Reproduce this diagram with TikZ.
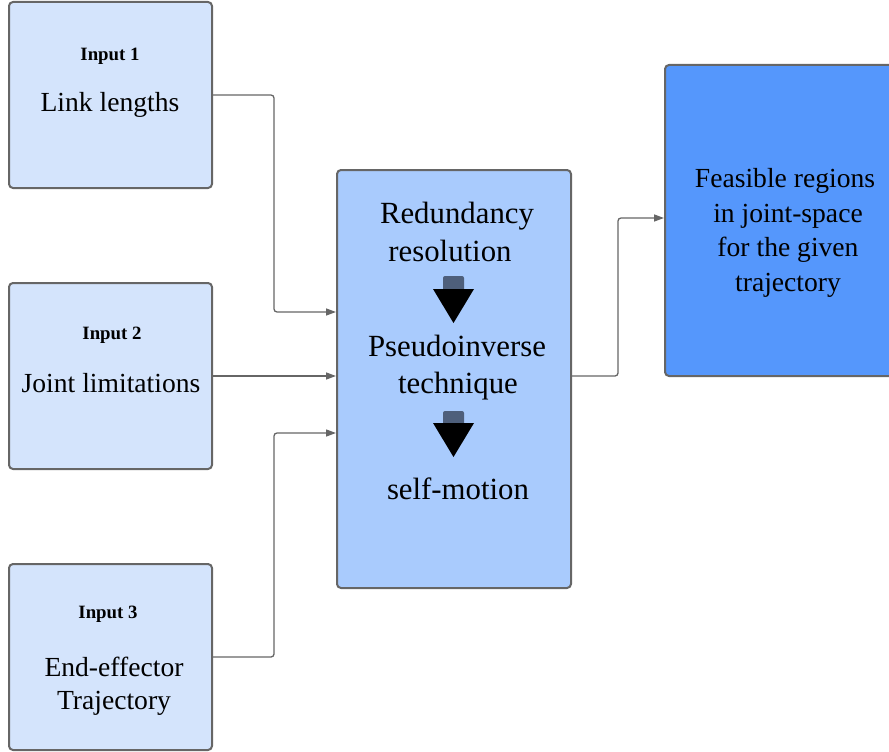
\documentclass[tikz,border=0pt]{standalone}
\usepackage{fontspec}
\setmainfont{Liberation Serif}
\usetikzlibrary{arrows.meta}
\definecolor{inputfill}{HTML}{D4E4FC}
\definecolor{midfill}{HTML}{A9CBFD}
\definecolor{outfill}{HTML}{5597FC}
\definecolor{edge}{HTML}{666666}
\definecolor{stepcap}{HTML}{4E5F7B}
\begin{document}
\begin{tikzpicture}[x=1pt,y=-1pt,
  box/.style={draw=edge,line width=2pt,rounded corners=4pt,inner sep=0pt},
  inbox/.style={box,fill=inputfill,minimum width=203pt,minimum height=186pt},
  head/.style={anchor=base,font=\fontsize{18.8}{22}\selectfont\bfseries,inner sep=0pt},
  body/.style={anchor=base,font=\fontsize{27.6}{34}\selectfont,inner sep=0pt},
  bigbody/.style={anchor=base,font=\fontsize{30.8}{38}\selectfont,inner sep=0pt},
  conn/.style={draw=edge,line width=1.3pt,rounded corners=3pt,
    -{Triangle[length=10pt,width=7pt,fill=edge]}},
  downcap/.style={fill=stepcap,rounded corners=2pt},
]
\useasboundingbox (0,0) rectangle (889,752);

% input boxes
\node[inbox] (in1) at (110.5,95) {};
\node[inbox] (in2) at (110.5,376) {};
\node[inbox] (in3) at (110.5,657) {};

% processing box and result box
\node[box,fill=midfill,minimum width=234pt,minimum height=418pt] (mid) at (454,379) {};
\node[box,fill=outfill,minimum width=240pt,minimum height=311pt] (out) at (785,220.5) {};

% input texts
\node[head] (h1) at (110,60) {Input 1};
\node[body] (t1) at (110,111.5) {Link lengths};
\node[head] (h2) at (112,339) {Input 2};
\node[body] (t2) at (111,392.5) {Joint limitations};
\node[head] (h3) at (108,618) {Input 3};
\node[body] (t3a) at (114,676.5) {End-effector};
\node[body] (t3b) at (114,709.5) {Trajectory};

% processing steps
\node[bigbody] (p1a) at (457,223.5) {Redundancy};
\node[bigbody] (p1b) at (450,261.5) {resolution};
\node[bigbody] (p2a) at (457,356) {Pseudoinverse};
\node[bigbody] (p2b) at (458,393.5) {technique};
\node[bigbody] (p3) at (458,499.5) {self-motion};

% step arrows
\fill[downcap] (443,276) rectangle (464,291);
\fill[black] (433,289) -- (474,289) -- (453.5,323) -- cycle;
\fill[downcap] (443,411) rectangle (464,425);
\fill[black] (433,423) -- (474,423) -- (453.5,457) -- cycle;

% result text
\node[body] (r1) at (785,187.5) {Feasible regions};
\node[body] (r2) at (788,222.5) {in joint-space};
\node[body] (r3) at (788,256.5) {for the given};
\node[body] (r4) at (788,291.5) {trajectory};

% connectors
\coordinate (m1) at (336,312);
\coordinate (m2) at (336,376);
\coordinate (m3) at (336,433);
\coordinate (o1) at (664,218);
\coordinate (mo) at (571,376);
\draw[conn] (in1.east) -- (274,95) -- (274,312) -- (m1);
\draw[conn] (in2.east) -- (m2);
\draw[conn] (in3.east) -- (274,657) -- (274,433) -- (m3);
\draw[conn] (mo) -- (618,376) -- (618,218) -- (o1);
\end{tikzpicture}
\end{document}
